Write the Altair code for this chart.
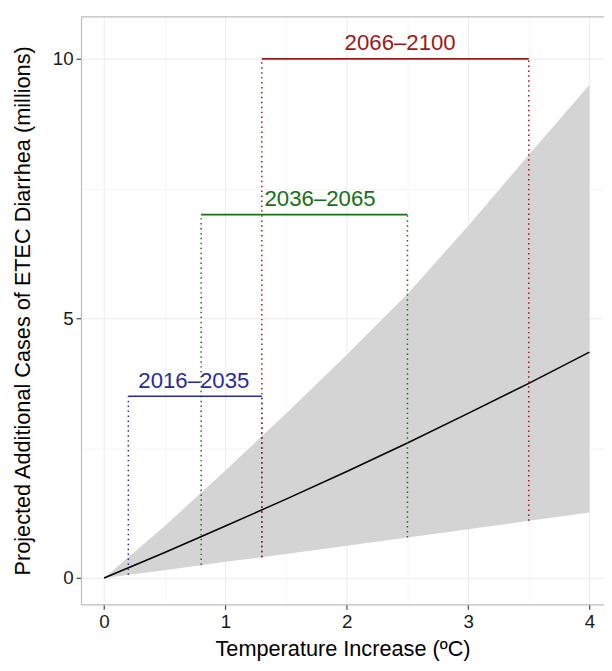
import altair as alt
import pandas as pd

# ---- data ----
temp = [0, 0.5, 1, 1.5, 2, 2.5, 3, 3.5, 4]
cases_mid = [0, 0.49, 1.0, 1.52, 2.05, 2.6, 3.17, 3.75, 4.35]
cases_low = [0, 0.15, 0.31, 0.46, 0.62, 0.78, 0.94, 1.1, 1.26]
cases_high = [0, 1.0, 2.07, 3.17, 4.3, 5.47, 6.78, 8.15, 9.5]

periods = ["2016–2035", "2036–2065", "2066–2100"]
period_colors = ["#2a2aa0", "#167016", "#a01818"]
period_start = [0.2, 0.8, 1.3]
period_end = [1.3, 2.5, 3.5]
bar_level = [3.5, 7.0, 10.0]
start_low = [0.06, 0.25, 0.40]
end_low = [0.40, 0.78, 1.10]
label_x = [0.74, 1.78, 2.44]
label_y = [3.8, 7.3, 10.31]

FONT = "Liberation Sans"
XDOM = [-0.19, 4.12]
YDOM = [-0.51, 10.82]
BORDER = "#bdbdbd"

band = pd.DataFrame({"t": temp, "mid": cases_mid, "lo": cases_low, "hi": cases_high})

vert_rows = []
for i, p in enumerate(periods):
    vert_rows.append({"period": p, "x": period_start[i], "y": start_low[i], "y2": bar_level[i]})
    vert_rows.append({"period": p, "x": period_end[i], "y": end_low[i], "y2": bar_level[i]})
verts = pd.DataFrame(vert_rows)
bars = pd.DataFrame({"period": periods, "x": period_start, "x2": period_end, "y": bar_level})
labels = pd.DataFrame({"period": periods, "x": label_x, "y": label_y})

color_scale = alt.Scale(domain=periods, range=period_colors)
xs = alt.Scale(domain=XDOM, nice=False, zero=False)
ys = alt.Scale(domain=YDOM, nice=False, zero=False)

x_enc = alt.X(
    "t:Q",
    scale=xs,
    axis=alt.Axis(
        title="Temperature Increase (ºC)",
        values=[0, 0.5, 1, 1.5, 2, 2.5, 3, 3.5, 4],
        labelExpr="datum.value % 1 == 0 ? format(datum.value, 'd') : ''",
        tickOpacity=alt.condition("datum.value % 1 == 0", alt.value(1), alt.value(0)),
        gridColor=alt.condition("datum.value % 1 == 0", alt.value("#ebebeb"), alt.value("#f5f5f5")),
        domain=True, domainColor=BORDER, domainWidth=1.2,
        titlePadding=8,
    ),
)
y_enc = alt.Y(
    "lo:Q",
    scale=ys,
    axis=alt.Axis(
        title="Projected Additional Cases of ETEC Diarrhea (millions)",
        values=[0, 2.5, 5, 7.5, 10],
        labelExpr="datum.value % 5 == 0 ? datum.label : ''",
        tickOpacity=alt.condition("datum.value % 5 == 0", alt.value(1), alt.value(0)),
        gridColor=alt.condition("datum.value % 5 == 0", alt.value("#ebebeb"), alt.value("#f5f5f5")),
        domain=True, domainColor=BORDER, domainWidth=1.2,
        titlePadding=18,
    ),
)

ribbon = alt.Chart(band).mark_area(color="#d4d4d4", opacity=1).encode(
    x=x_enc, y=y_enc, y2="hi:Q"
)
line = alt.Chart(band).mark_line(color="black", strokeWidth=1.5).encode(
    x=alt.X("t:Q", axis=None), y="mid:Q"
)
vlines = alt.Chart(verts).mark_rule(strokeDash=[1.5, 3.5], strokeWidth=1.5).encode(
    x=alt.X("x:Q", axis=None), y="y:Q", y2="y2:Q",
    color=alt.Color("period:N", scale=color_scale, legend=None),
)
hbars = alt.Chart(bars).mark_rule(strokeWidth=1.6).encode(
    x=alt.X("x:Q", axis=None), x2="x2:Q", y="y:Q",
    color=alt.Color("period:N", scale=color_scale, legend=None),
)
texts = alt.Chart(labels).mark_text(font=FONT, fontSize=22.5, align="center", baseline="middle").encode(
    x=alt.X("x:Q", axis=alt.Axis(orient="top", title=None, labels=False, ticks=False,
                                  grid=False, domain=True, domainColor=BORDER, domainWidth=1.2)),
    y="y:Q", text="period:N",
    color=alt.Color("period:N", scale=color_scale, legend=None),
)

chart = alt.layer(ribbon, line, vlines, hbars, texts).resolve_axis(
    x="independent"
).properties(
    width=530, height=596,
    autosize=alt.AutoSizeParams(type="none"),
    padding={"left": 74, "top": 4, "right": 0, "bottom": 60},
).configure_view(
    stroke=None
).configure_axis(
    tickColor="#333333", tickSize=5, tickWidth=1.1,
    labelFont=FONT, labelFontSize=19, labelColor="#1a1a1a", labelPadding=3,
    titleFont=FONT, titleFontSize=22, titleFontWeight="normal", titleColor="#000000",
    grid=True, gridWidth=1,
)

chart.save("out.html", embed_options={"renderer": "svg", "actions": False})
